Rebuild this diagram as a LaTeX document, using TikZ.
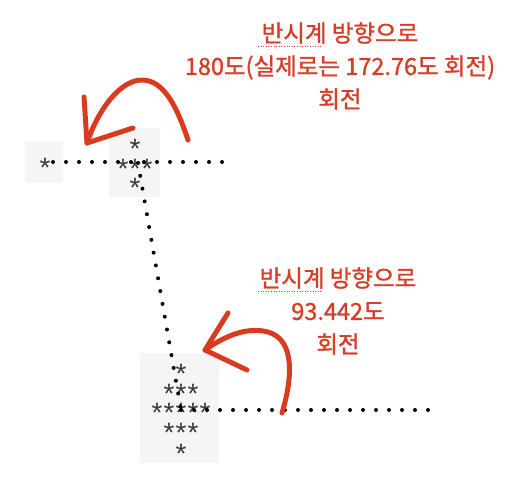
\documentclass[tikz,border=0pt]{standalone}
\usepackage{fontspec}
\setmainfont{Liberation Sans}
\newfontfamily\kofont{Noto Sans CJK KR}[FakeBold=1.2]
\usepackage{tikz}

\definecolor{memored}{HTML}{D63E28}
\definecolor{crayonred}{HTML}{D93B1F}
\definecolor{boxgray}{HTML}{F5F5F5}
\definecolor{stargray}{HTML}{3A3A3A}

\begin{document}
\begin{tikzpicture}[x=1pt,y=-1pt,
	astr/.style={font=\fontsize{28}{28}\selectfont, text=stargray, inner sep=0pt, anchor=base, yshift=-15.4pt},
	dots/.style={line width=4pt, line cap=round, dash pattern=on 0pt off 13pt},
	memo/.style={font=\kofont\fontsize{23.5}{33}\selectfont, text=memored, align=center},
	crayon/.style={draw=crayonred, line width=5pt, line cap=round, line join=round}]
	
	\useasboundingbox (0,0) rectangle (526,492);
	
	\fill[boxgray] (25,142) rectangle (63,183);
	\fill[boxgray] (109,128) rectangle (160,197);
	\fill[boxgray] (140,353) rectangle (219,463);
	
	\node[astr] (l)  at (45,162)  {*};
	
	\node[astr] (t1) at (135,143) {*};
	\node[astr] (t2) at (123,163) {*};
	\node[astr] (t3) at (135,163) {*};
	\node[astr] (t4) at (147,163) {*};
	\node[astr] (t5) at (135,182) {*};
	
	\node[astr] (b1)  at (181,368) {*};
	\node[astr] (b2)  at (169,388) {*};
	\node[astr] (b3)  at (181,388) {*};
	\node[astr] (b4)  at (193,388) {*};
	\node[astr] (b5)  at (157,407) {*};
	\node[astr] (b6)  at (169,407) {*};
	\node[astr] (b7)  at (181,407) {*};
	\node[astr] (b8)  at (193,407) {*};
	\node[astr] (b9)  at (205,407) {*};
	\node[astr] (b10) at (169,427) {*};
	\node[astr] (b11) at (181,427) {*};
	\node[astr] (b12) at (193,427) {*};
	\node[astr] (b13) at (181,448) {*};
	
	\coordinate (ls) at (53,162);
	\coordinate (le) at (223,162);
	\coordinate (tc) at (138,163);
	\coordinate (bc) at (181,410);
	\coordinate (re) at (429,410);
	
	\path[dots] (ls) edge (le);
	\path[dots] (tc) edge (bc);
	\path[dots] (bc) edge (re);
	
	\coordinate (ra) at (188,140);
	\coordinate (rt) at (87,143);
	\coordinate (rb) at (282,413);
	\coordinate (rs) at (205,350);
	
	\draw[crayon] (ra) .. controls (178,110) and (165,80) .. (142,80) .. controls (120,80) and (98,110) .. (rt);
	\draw[crayon] (84,97) -- (rt) -- (133,128);
	\draw[crayon] (rb) .. controls (292,380) and (296,340) .. (268,332) .. controls (245,326) and (222,338) .. (rs);
	\draw[crayon] (228,313) -- (rs) -- (247,370);
	
	\node[memo] (ta) at (340,66)  {반시계 방향으로\\180도(실제로는 172.76도 회전)\\회전};
	\node[memo] (tb) at (338,311) {반시계 방향으로\\93.442도\\회전};
	
	\draw[memored, line width=1pt, dash pattern=on 1pt off 1.6pt] (258,47) -- (322,47);
	\draw[memored, line width=1pt, dash pattern=on 1pt off 1.6pt] (258,291) -- (322,291);
	
\end{tikzpicture}
\end{document}
